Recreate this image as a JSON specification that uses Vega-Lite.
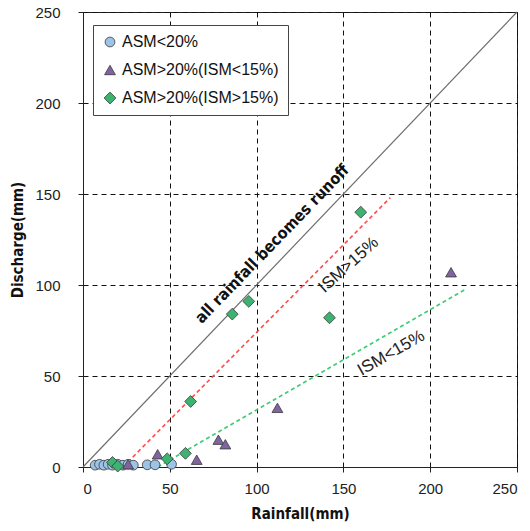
{
  "$schema": "https://vega.github.io/schema/vega-lite/v6.json",
  "width": 434,
  "height": 455,
  "autosize": "none",
  "padding": {"left": 83, "top": 12, "right": 13, "bottom": 64},
  "background": "white",
  "config": {
    "view": {"stroke": "#222", "strokeWidth": 1},
    "axis": {
      "domainColor": "#222",
      "tickColor": "#222",
      "tickSize": 5,
      "grid": true,
      "gridColor": "#111",
      "gridDash": [5, 4],
      "gridOpacity": 1,
      "gridWidth": 1,
      "labelFont": "Liberation Sans",
      "labelFontSize": 15,
      "labelColor": "#222",
      "titleFont": "DejaVu Sans Condensed",
      "titleFontWeight": "bold",
      "titleFontSize": 15,
      "titleColor": "#111"
    },
    "legend": {
      "orient": "none",
      "legendX": 10,
      "legendY": 13,
      "fillColor": "white",
      "strokeColor": "#444",
      "padding": 9,
      "rowPadding": 12,
      "symbolStrokeColor": "#3a3a3a",
      "symbolStrokeWidth": 0.8,
      "labelFont": "Liberation Sans",
      "labelFontSize": 16,
      "labelColor": "#111",
      "labelOffset": 4,
      "labelLimit": 300
    }
  },
  "datasets": {
    "obs": [
      {"rain": 7, "dis": 1, "group": "ASM<20%"},
      {"rain": 9.5, "dis": 1.5, "group": "ASM<20%"},
      {"rain": 12, "dis": 1, "group": "ASM<20%"},
      {"rain": 14.5, "dis": 1.5, "group": "ASM<20%"},
      {"rain": 17, "dis": 1, "group": "ASM<20%"},
      {"rain": 20, "dis": 1.5, "group": "ASM<20%"},
      {"rain": 23, "dis": 1, "group": "ASM<20%"},
      {"rain": 26, "dis": 1.5, "group": "ASM<20%"},
      {"rain": 29, "dis": 1, "group": "ASM<20%"},
      {"rain": 37, "dis": 1.2, "group": "ASM<20%"},
      {"rain": 41.5, "dis": 1.2, "group": "ASM<20%"},
      {"rain": 51, "dis": 1.5, "group": "ASM<20%"},
      {"rain": 26, "dis": 1.5, "group": "ASM>20%(ISM<15%)"},
      {"rain": 43, "dis": 7, "group": "ASM>20%(ISM<15%)"},
      {"rain": 65.5, "dis": 4, "group": "ASM>20%(ISM<15%)"},
      {"rain": 78, "dis": 15, "group": "ASM>20%(ISM<15%)"},
      {"rain": 82, "dis": 12.5, "group": "ASM>20%(ISM<15%)"},
      {"rain": 112, "dis": 32.5, "group": "ASM>20%(ISM<15%)"},
      {"rain": 212, "dis": 107, "group": "ASM>20%(ISM<15%)"},
      {"rain": 17, "dis": 2.5, "group": "ASM>20%(ISM>15%)"},
      {"rain": 20, "dis": 0.5, "group": "ASM>20%(ISM>15%)"},
      {"rain": 48.5, "dis": 4.5, "group": "ASM>20%(ISM>15%)"},
      {"rain": 59, "dis": 7.5, "group": "ASM>20%(ISM>15%)"},
      {"rain": 62, "dis": 36, "group": "ASM>20%(ISM>15%)"},
      {"rain": 86, "dis": 84, "group": "ASM>20%(ISM>15%)"},
      {"rain": 95.5, "dis": 91, "group": "ASM>20%(ISM>15%)"},
      {"rain": 142, "dis": 82, "group": "ASM>20%(ISM>15%)"},
      {"rain": 160, "dis": 140, "group": "ASM>20%(ISM>15%)"}
    ]
  },
  "encoding": {
    "x": {
      "field": "rain",
      "type": "quantitative",
      "scale": {"domain": [0, 250], "nice": false},
      "axis": {"values": [0, 50, 100, 150, 200, 250], "title": "Rainfall(mm)", "labelPadding": 9, "titlePadding": 10}
    },
    "y": {
      "field": "dis",
      "type": "quantitative",
      "scale": {"domain": [0, 250], "nice": false},
      "axis": {"values": [0, 50, 100, 150, 200, 250], "title": "Discharge(mm)", "labelPadding": 18, "titlePadding": 9}
    }
  },
  "layer": [
    {
      "data": {"values": [{"rain": 0, "dis": 0}, {"rain": 250, "dis": 250}]},
      "mark": {"type": "line", "color": "#6e6e6e", "strokeWidth": 1.2}
    },
    {
      "data": {"values": [{"rain": 23, "dis": 0}, {"rain": 177, "dis": 148}]},
      "mark": {"type": "line", "color": "#ff4a4a", "strokeWidth": 1.6, "strokeDash": [4, 3]}
    },
    {
      "data": {"values": [{"rain": 43, "dis": 0}, {"rain": 221, "dis": 98}]},
      "mark": {"type": "line", "color": "#3dcc73", "strokeWidth": 1.6, "strokeDash": [4, 3]}
    },
    {
      "data": {"name": "obs"},
      "mark": {"type": "point", "filled": true, "opacity": 1, "stroke": "#3a3a3a", "strokeWidth": 0.8},
      "encoding": {
        "shape": {
          "field": "group",
          "type": "nominal",
          "title": null,
          "scale": {"domain": ["ASM<20%", "ASM>20%(ISM<15%)", "ASM>20%(ISM>15%)"], "range": ["circle", "triangle-up", "diamond"]}
        },
        "color": {
          "field": "group",
          "type": "nominal",
          "title": null,
          "scale": {"domain": ["ASM<20%", "ASM>20%(ISM<15%)", "ASM>20%(ISM>15%)"], "range": ["#9dc3e6", "#8064a2", "#3cb371"]}
        },
        "size": {
          "field": "group",
          "type": "nominal",
          "title": null,
          "scale": {"domain": ["ASM<20%", "ASM>20%(ISM<15%)", "ASM>20%(ISM>15%)"], "range": [95, 140, 145]}
        }
      }
    },
    {
      "data": {"values": [{"rain": 109, "dis": 122.5, "label": "all rainfall becomes runoff"}]},
      "mark": {"type": "text", "angle": -46, "font": "DejaVu Sans Condensed", "fontWeight": "bold", "fontSize": 16, "color": "#111"},
      "encoding": {"text": {"field": "label"}}
    },
    {
      "data": {"values": [{"rain": 153, "dis": 111, "label": "ISM>15%"}]},
      "mark": {"type": "text", "angle": -42, "font": "Liberation Sans", "fontSize": 17, "color": "#222"},
      "encoding": {"text": {"field": "label"}}
    },
    {
      "data": {"values": [{"rain": 177.5, "dis": 62.6, "label": "ISM<15%"}]},
      "mark": {"type": "text", "angle": -30, "font": "Liberation Sans", "fontSize": 17, "color": "#222"},
      "encoding": {"text": {"field": "label"}}
    }
  ]
}
